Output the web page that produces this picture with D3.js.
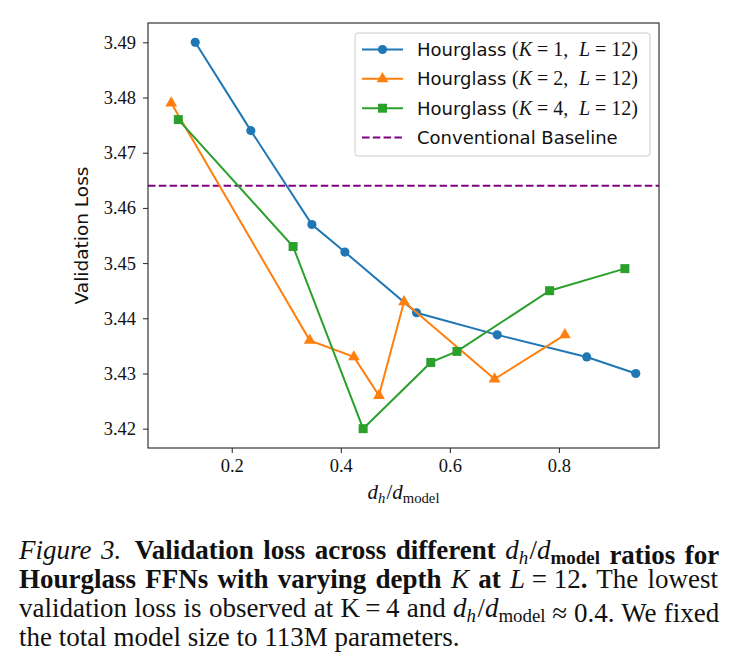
<!doctype html>
<html lang="en">
<head>
<meta charset="utf-8">
<script src="https://d3js.org/d3.v7.min.js"></script>
<style>
  body { margin: 0; background: #fff; }
  text { fill: #111; }
  .tick text { font-family: 'Liberation Serif', 'Times New Roman', serif !important; }
</style>
</head>
<body>
<svg width="735" height="672"></svg>
<script>

// values
var depthK = [1, 2, 4];
var layersL = 12;
var ratioK1 = [0.133, 0.235, 0.347, 0.4075, 0.539, 0.687, 0.851, 0.941];
var lossK1  = [3.490, 3.474, 3.457, 3.452, 3.441, 3.437, 3.433, 3.430];
var ratioK2 = [0.089, 0.343, 0.424, 0.470, 0.516, 0.682, 0.811];
var lossK2  = [3.479, 3.436, 3.433, 3.426, 3.443, 3.429, 3.437];
var ratioK4 = [0.102, 0.3125, 0.441, 0.565, 0.613, 0.783, 0.921];
var lossK4  = [3.476, 3.453, 3.420, 3.432, 3.434, 3.445, 3.449];
var baselineLoss = 3.464;
var baselineName = "Conventional Baseline";
var yTicks = [3.42, 3.43, 3.44, 3.45, 3.46, 3.47, 3.48, 3.49];
var xTicks = [0.2, 0.4, 0.6, 0.8];

var colors = ["#1f77b4", "#ff7f0e", "#2ca02c"];
var shapes = [d3.symbolCircle, d3.symbolTriangle, d3.symbolSquare];
var shapeSize = [66, 60, 81];

var series = [
  {k: depthK[0], pts: d3.zip(ratioK1, lossK1)},
  {k: depthK[1], pts: d3.zip(ratioK2, lossK2)},
  {k: depthK[2], pts: d3.zip(ratioK4, lossK4)}
];

var svg = d3.select("svg");
var plotLeft = 148, plotRight = 659, plotTop = 23, plotBottom = 448;

var allX = ratioK1.concat(ratioK2, ratioK4),
    allY = lossK1.concat(lossK2, lossK4);
var xMin = d3.min(allX), xMax = d3.max(allX), yMin = d3.min(allY), yMax = d3.max(allY);
var xPad = (xMax - xMin) * 0.05, yPad = (yMax - yMin) * 0.05;

var x = d3.scaleLinear().domain([xMin - xPad, xMax + xPad]).range([plotLeft, plotRight]);
var y = d3.scaleLinear().domain([yMin - yPad, yMax + yPad]).range([plotBottom, plotTop]);

var serif = "'Liberation Serif', 'Times New Roman', serif";
var sans = "'DejaVu Sans', sans-serif";

// axes
var xAxis = svg.append("g")
    .attr("transform", "translate(0," + plotBottom + ")")
    .call(d3.axisBottom(x).tickValues(xTicks).tickFormat(d3.format(".1f")).tickSize(5).tickPadding(6));
var yAxis = svg.append("g")
    .attr("transform", "translate(" + plotLeft + ",0)")
    .call(d3.axisLeft(y).tickValues(yTicks).tickFormat(d3.format(".2f")).tickSize(5).tickPadding(7));
[xAxis, yAxis].forEach(function(a) {
  a.attr("font-family", serif).attr("font-size", 18.5);
  a.select(".domain").remove();
  a.selectAll("line").attr("stroke", "#222").attr("stroke-width", 1);
  a.selectAll("text").attr("fill", "#222");
});

// baseline
svg.append("line")
    .attr("x1", x.range()[0]).attr("x2", x.range()[1])
    .attr("y1", y(baselineLoss)).attr("y2", y(baselineLoss))
    .attr("stroke", "#800080").attr("stroke-width", 2)
    .attr("stroke-dasharray", "7.5,3.3");

// series
var line = d3.line().x(function(d) { return x(d[0]); }).y(function(d) { return y(d[1]); });
series.forEach(function(s, i) {
  svg.append("path").datum(s.pts)
      .attr("d", line).attr("fill", "none")
      .attr("stroke", colors[i]).attr("stroke-width", 2);
  svg.selectAll(null).data(s.pts).enter().append("path")
      .attr("transform", function(d) { return "translate(" + x(d[0]) + "," + y(d[1]) + ")"; })
      .attr("d", d3.symbol().type(shapes[i]).size(shapeSize[i]))
      .attr("fill", colors[i]);
});

// frame
svg.append("rect")
    .attr("x", plotLeft).attr("y", plotTop).attr("width", plotRight - plotLeft).attr("height", plotBottom - plotTop)
    .attr("fill", "none").attr("stroke", "#222").attr("stroke-width", 1.1);

// axis titles
svg.append("text")
    .attr("transform", "translate(88," + ((plotTop + plotBottom) / 2) + ") rotate(-90)")
    .attr("text-anchor", "middle")
    .style("font-family", sans).style("font-size", "18.5px")
    .text("Validation Loss");

function ratioLabel(t, size, subWeight) {
  t.append("tspan").style("font-style", "italic").text("d");
  t.append("tspan").style("font-style", "italic").style("font-size", (size * 0.7) + "px").attr("dy", size * 0.18).text("h");
  t.append("tspan").attr("dy", -size * 0.18).attr("dx", size * 0.05).text("/");
  t.append("tspan").style("font-style", "italic").text("d");
  t.append("tspan").style("font-size", (size * 0.7) + "px").style("font-weight", subWeight).attr("dy", size * 0.18).text("model");
  t.append("tspan").attr("dy", -size * 0.18).attr("dx", size * 0.04).text("");
}

var xl = svg.append("text")
    .attr("x", (plotLeft + plotRight) / 2).attr("y", 499)
    .attr("text-anchor", "middle")
    .style("font-family", serif).style("font-size", "21px");
ratioLabel(xl, 21, "normal");

// legend
var lg = svg.append("g");
lg.append("rect")
    .attr("x", 355).attr("y", 33).attr("width", 295).attr("height", 123).attr("rx", 3)
    .attr("fill", "#fff").attr("fill-opacity", 0.8)
    .attr("stroke", "#cccccc").attr("stroke-width", 1);
var rowY = [49.5, 78.8, 108.2, 137.5];
series.forEach(function(s, i) {
  lg.append("line").attr("x1", 362).attr("x2", 403).attr("y1", rowY[i]).attr("y2", rowY[i])
      .attr("stroke", colors[i]).attr("stroke-width", 2);
  lg.append("path").attr("transform", "translate(382.5," + rowY[i] + ")")
      .attr("d", d3.symbol().type(shapes[i]).size(shapeSize[i])).attr("fill", colors[i]);
  var t = lg.append("text").attr("x", 417).attr("y", rowY[i] + 6.5)
      .style("font-size", "20px");
  t.append("tspan").style("font-family", sans).style("font-size", "18px").text("Hourglass ");
  t.append("tspan").style("font-family", serif).text("(");
  t.append("tspan").style("font-family", serif).style("font-style", "italic").text("K");
  t.append("tspan").style("font-family", serif).text("\u2005=\u2005" + s.k + ",\u2004\u2009");
  t.append("tspan").style("font-family", serif).style("font-style", "italic").text("L");
  t.append("tspan").style("font-family", serif).text("\u2005=\u2005" + layersL + ")");
});
lg.append("line").attr("x1", 362).attr("x2", 403).attr("y1", rowY[3]).attr("y2", rowY[3])
    .attr("stroke", "#800080").attr("stroke-width", 2).attr("stroke-dasharray", "7.5,3.3");
lg.append("text").attr("x", 417).attr("y", rowY[3] + 6.5)
    .style("font-family", sans).style("font-size", "18px").text(baselineName);

// caption
var capSize = 27, capLeft = 19, capRight = 718;
var capLines = [
  [["Figure 3.", "i"], ["\u2002Validation loss across different ", "b"], ["ratio", "mb"], [" ratios for", "b"]],
  [["Hourglass FFNs with varying depth ", "b"], ["K", "mi"], [" at ", "b"], ["L", "mi"], ["\u2005=\u200512", "m"], [".", "b"], [" The lowest", "r"]],
  [["validation loss is observed at K\u2009=\u20094 and ", "r"], ["ratio", "m"], ["\u2005\u2248\u20050.4. We fixed", "r"]],
  [["the total model size to 113M parameters.", "r"]]
];
var capBase = [559, 588, 617, 646];
capLines.forEach(function(parts, li) {
  var t = svg.append("text").attr("x", capLeft).attr("y", capBase[li])
      .style("font-family", serif).style("font-size", capSize + "px");
  parts.forEach(function(p) {
    if (p[0] === "ratio") {
      ratioLabel(t, capSize, p[1] === "mb" ? "bold" : "normal");
      return;
    }
    var sp = t.append("tspan").text(p[0]);
    if (p[1] === "i" || p[1] === "mi") sp.style("font-style", "italic");
    if (p[1] === "b") sp.style("font-weight", "bold");
  });
  if (li < 3) {
    var w = t.node().getComputedTextLength();
    var n = (t.text().match(/ /g) || []).length;
    t.attr("word-spacing", (capRight - capLeft - w) / n);
  }
});

</script>
</body>
</html>
